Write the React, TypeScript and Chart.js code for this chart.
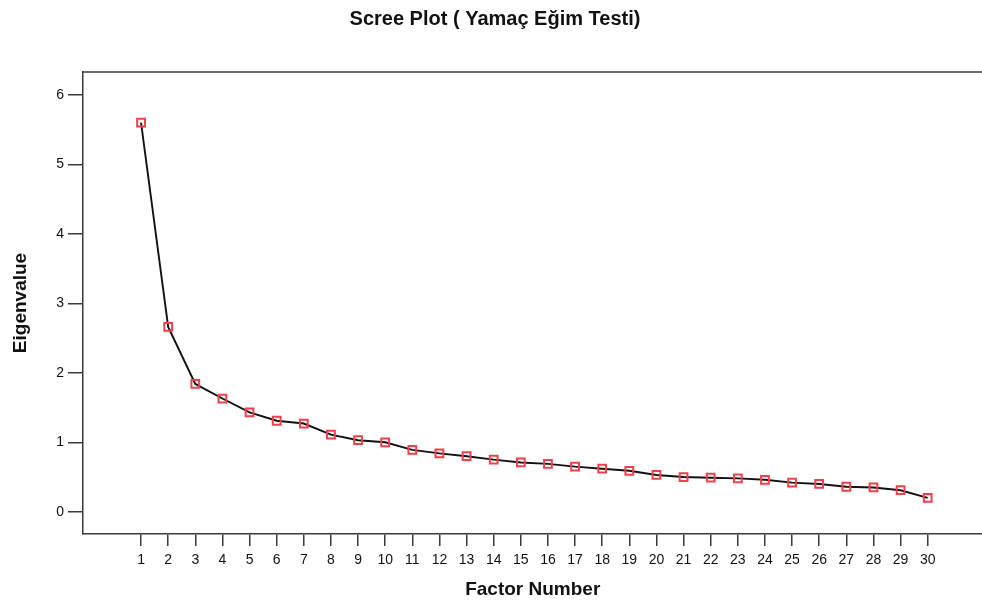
import React, { useEffect, useRef } from "react";
import { Chart, registerables } from "chart.js";

Chart.register(...registerables);

const factorNumbers: number[] = Array.from({ length: 30 }, (_, i) => i + 1);
const eigenvalues: number[] = [
  5.6, 2.66, 1.84, 1.63, 1.43, 1.31, 1.27, 1.11, 1.03, 1.0,
  0.89, 0.84, 0.8, 0.75, 0.71, 0.69, 0.65, 0.62, 0.59, 0.53,
  0.5, 0.49, 0.48, 0.46, 0.42, 0.4, 0.36, 0.35, 0.31, 0.2,
];
const yTicks: number[] = [0, 1, 2, 3, 4, 5, 6];
const chartTitle = "Scree Plot ( Yamaç Eğim Testi)";
const xTitle = "Factor Number";
const yTitle = "Eigenvalue";

const FONT = "'Liberation Sans', Arial, sans-serif";
const TEXT = "#111111";
const AXIS = "#3a3a3a";

const framePlugin = {
  id: "frame",
  afterDraw(chart: any) {
    const { ctx, chartArea } = chart;
    ctx.save();
    ctx.strokeStyle = AXIS;
    ctx.lineWidth = 1.5;
    ctx.beginPath();
    ctx.moveTo(chartArea.left, chartArea.top);
    ctx.lineTo(chartArea.right + 20, chartArea.top);
    ctx.stroke();
    ctx.restore();
  },
};

export default function App() {
  const ref = useRef<HTMLCanvasElement | null>(null);
  useEffect(() => {
    if (!ref.current) return;
    const chart = new Chart(ref.current, {
      type: "line",
      data: {
        datasets: [
          {
            data: factorNumbers.map((x, i) => ({ x, y: eigenvalues[i] })),
            borderColor: "#111111",
            borderWidth: 1.9,
            tension: 0,
            pointStyle: "rect",
            pointRadius: 5.5,
            pointBorderWidth: 2,
            pointBorderColor: "#f0404a",
            pointBackgroundColor: "rgba(0,0,0,0)",
          },
        ],
      },
      plugins: [framePlugin],
      options: {
        animation: false,
        responsive: false,
        maintainAspectRatio: false,
        layout: { padding: 0 },
        plugins: {
          legend: { display: false },
          tooltip: { enabled: false },
          title: {
            display: true,
            text: chartTitle,
            color: TEXT,
            font: { family: FONT, size: 20, weight: "bold", lineHeight: 1.2 },
            padding: { top: 7, bottom: 41 },
          },
        },
        scales: {
          x: {
            type: "linear",
            min: -1.14,
            max: 32.02,
            afterBuildTicks: (axis: any) => {
              axis.ticks = factorNumbers.map((v) => ({ value: v }));
            },
            afterFit: (axis: any) => {
              axis.height = 72;
            },
            ticks: {
              autoSkip: false,
              maxRotation: 0,
              color: TEXT,
              padding: 6,
              font: { family: FONT, size: 14 },
              callback: (v: any) => String(v),
            },
            grid: {
              drawOnChartArea: false,
              drawTicks: true,
              tickLength: 12,
              color: AXIS,
              lineWidth: 1.5,
            },
            border: { display: true, color: AXIS, width: 1.5 },
            title: {
              display: true,
              text: xTitle,
              color: TEXT,
              font: { family: FONT, size: 19, weight: "bold", lineHeight: 1.2 },
              padding: { top: 0, bottom: 5 },
            },
          },
          y: {
            type: "linear",
            min: -0.32,
            max: 6.33,
            afterBuildTicks: (axis: any) => {
              axis.ticks = yTicks.map((v) => ({ value: v }));
            },
            afterFit: (axis: any) => {
              axis.width = 83;
            },
            ticks: {
              color: TEXT,
              padding: 4,
              font: { family: FONT, size: 14 },
              callback: (v: any) => String(v),
            },
            grid: {
              drawOnChartArea: false,
              drawTicks: true,
              tickLength: 15,
              color: AXIS,
              lineWidth: 1.5,
            },
            border: { display: true, color: AXIS, width: 1.5 },
            title: {
              display: true,
              text: yTitle,
              color: TEXT,
              font: { family: FONT, size: 19, weight: "bold", lineHeight: 1.2 },
              padding: { top: 9, bottom: 0 },
            },
          },
        },
      },
    } as any);
    return () => chart.destroy();
  }, []);
  return (
    <div
      style={{
        position: "fixed",
        left: 0,
        top: 0,
        width: 982,
        height: 606,
        overflow: "hidden",
        background: "#ffffff",
      }}
    >
      <canvas ref={ref} width={990} height={606} style={{ display: "block", width: 990, height: 606 }} />
    </div>
  );
}
